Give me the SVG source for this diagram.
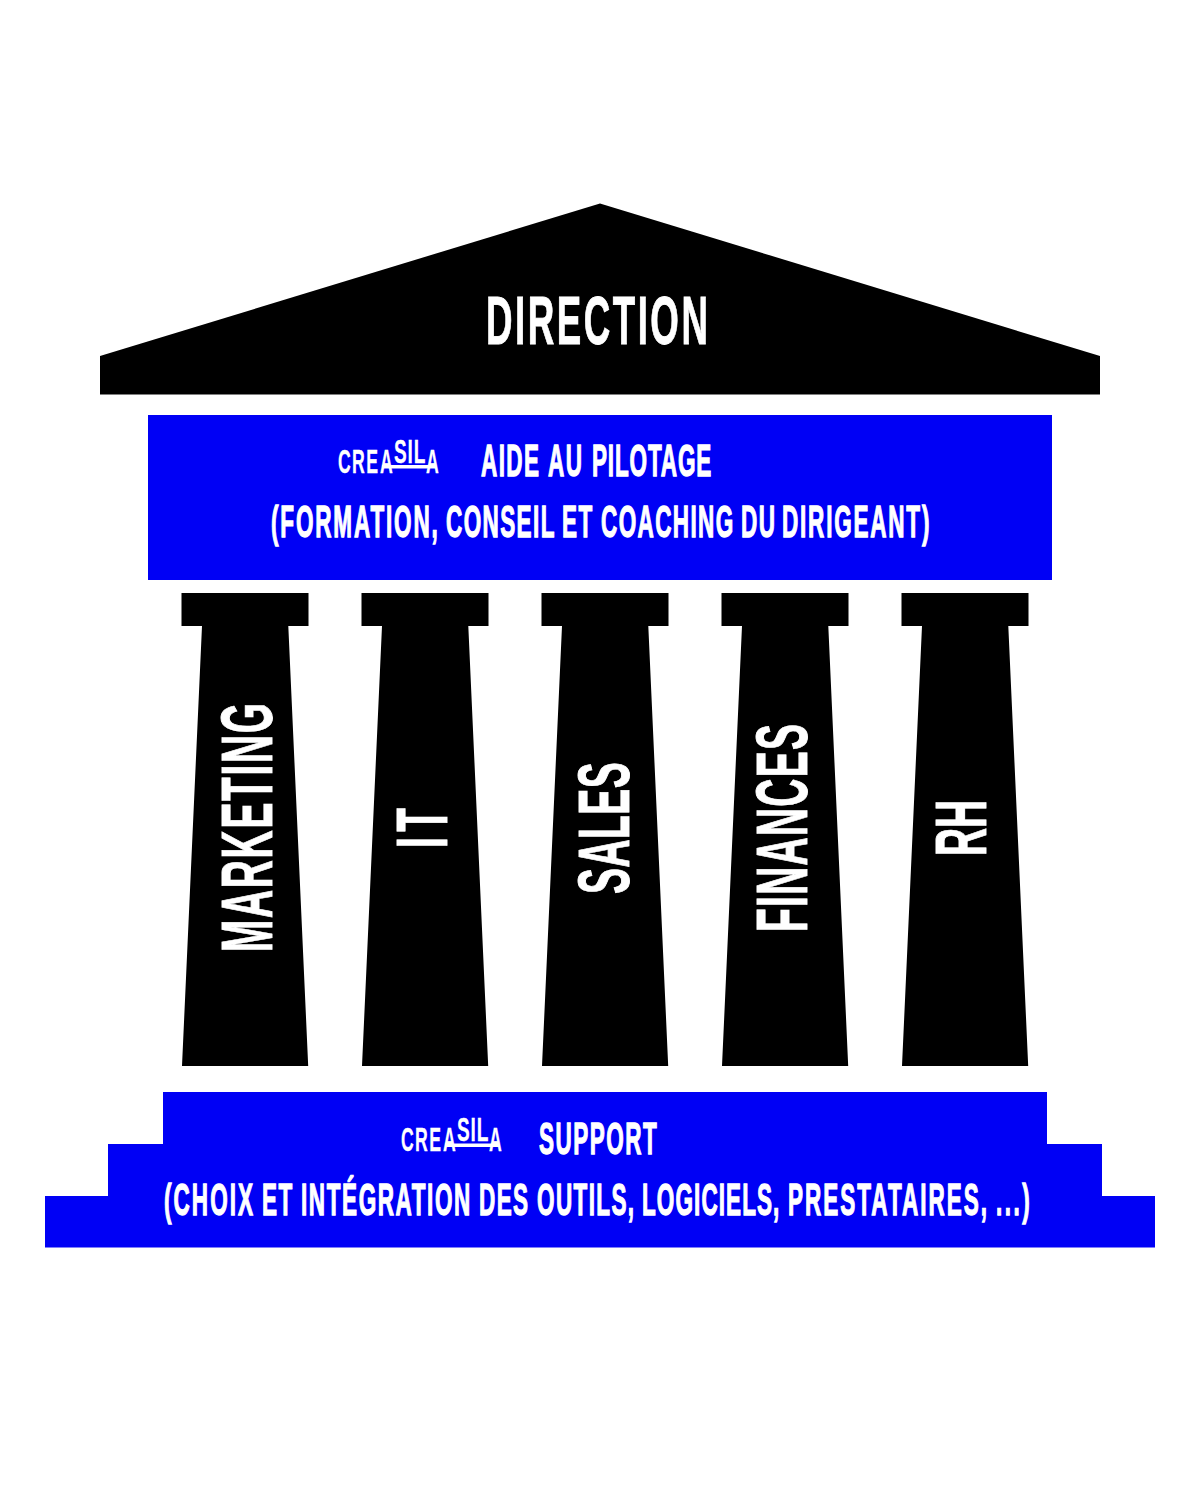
<svg xmlns="http://www.w3.org/2000/svg" width="1200" height="1500" viewBox="0 0 1200 1500">
<style>
.b{fill:#0000f5}
.k{fill:#000}
text{fill:#fff;font-family:"Liberation Sans",Arial,sans-serif;font-weight:700;stroke:#fff;stroke-width:.9}
.h{font-size:68px}
.m{font-size:45px;stroke-width:1.3;letter-spacing:2.800px}
.v{font-size:72px}
.l{font-size:34px;stroke-width:.3}
</style>
<defs>
<path id="col" class="k" d="M181.500 593H308.500V626H288.300L308.200 1066H182L202 626H181.500Z"/>
</defs>
<rect width="1200" height="1500" fill="#fff"/>
<g id="direction">
<path class="k" d="M600 203.500L1100 356V394.500H100V356Z"/>
<text class="h" transform="translate(486 344) scale(.54 1)" textLength="411" lengthAdjust="spacing">DIRECTION</text>
</g>
<g id="aide-au-pilotage">
<rect class="b" x="148" y="415" width="904" height="165"/>
<text class="l" transform="translate(338 473) scale(.52 1)" textLength="77" lengthAdjust="spacing">CRE</text>
<text class="l" transform="translate(380 473) scale(.52 1)" textLength="25" lengthAdjust="spacing">A</text>
<text class="l" transform="translate(394 463) scale(.56 1)" textLength="56" lengthAdjust="spacing">SIL</text>
<text class="l" transform="translate(426 473) scale(.52 1)" textLength="23" lengthAdjust="spacing">A</text>
<rect x="382" y="465" width="54" height="3.500" fill="#fff"/>
<text class="m" transform="translate(481 476) scale(.5 1)"><tspan x="0">AIDE </tspan><tspan x="134">AU </tspan><tspan x="222" style="letter-spacing:1.700px">PILOTAGE</tspan></text>
<text class="m" transform="translate(271 537) scale(.5 1)"><tspan x="0" style="letter-spacing:3.700px">(FORMATION, </tspan><tspan x="350">CONSEIL </tspan><tspan x="582">ET </tspan><tspan x="660">COACHING </tspan><tspan x="940">DU </tspan><tspan x="1022" style="letter-spacing:3.600px">DIRIGEANT)</tspan></text>
</g>
<g id="marketing"><use href="#col"/><text class="v" transform="translate(272 952) rotate(-90) scale(.54 1)" textLength="461" lengthAdjust="spacing">MARKETING</text></g>
<g id="it"><use href="#col" x="180"/><text class="v" transform="translate(447 848) rotate(-90) scale(.54 1)" textLength="74" lengthAdjust="spacing">IT</text></g>
<g id="sales"><use href="#col" x="360"/><text class="v" transform="translate(629 894) rotate(-90) scale(.54 1)" textLength="244" lengthAdjust="spacing">SALES</text></g>
<g id="finances"><use href="#col" x="540"/><text class="v" transform="translate(807 932) rotate(-90) scale(.54 1)" textLength="385" lengthAdjust="spacing">FINANCES</text></g>
<g id="rh"><use href="#col" x="720"/><text class="v" transform="translate(986 856) rotate(-90) scale(.54 1)" textLength="104" lengthAdjust="spacing">RH</text></g>
<g id="support">
<path class="b" d="M163 1092H1047V1144H1102V1196H1155V1247.500H45V1196H108V1144H163Z"/>
<text class="l" transform="translate(401 1151) scale(.52 1)" textLength="77" lengthAdjust="spacing">CRE</text>
<text class="l" transform="translate(443 1151) scale(.52 1)" textLength="25" lengthAdjust="spacing">A</text>
<text class="l" transform="translate(457 1141) scale(.56 1)" textLength="56" lengthAdjust="spacing">SIL</text>
<text class="l" transform="translate(489 1151) scale(.52 1)" textLength="23" lengthAdjust="spacing">A</text>
<rect x="445" y="1143.500" width="54" height="3.500" fill="#fff"/>
<text class="m" transform="translate(539 1154) scale(.5 1)" style="letter-spacing:3px">SUPPORT</text>
<text class="m" transform="translate(164 1215) scale(.5 1)"><tspan x="0" style="letter-spacing:4.100px">(CHOIX </tspan><tspan x="196">ET </tspan><tspan x="274" style="letter-spacing:3.200px">INTÉGRATION </tspan><tspan x="630">DES </tspan><tspan x="746">OUTILS, </tspan><tspan x="956" style="letter-spacing:2.200px">LOGICIELS, </tspan><tspan x="1248" style="letter-spacing:4px">PRESTATAIRES, </tspan><tspan x="1664" style="letter-spacing:5px">...)</tspan></text>
</g>
<g id="connectors"/>
</svg>
